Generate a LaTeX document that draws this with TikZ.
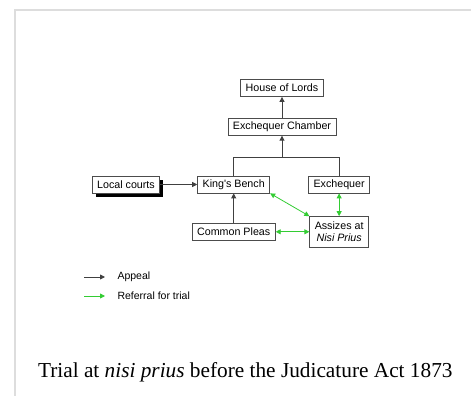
\documentclass[tikz,border=0pt]{standalone}
\usepackage{fontspec}
\setmainfont{Liberation Serif}
\newfontfamily\labelfont{Liberation Sans}
\usepackage{tikz}
\usetikzlibrary{arrows.meta, positioning, shadows}
\definecolor{frameGray}{RGB}{221,221,221}
\definecolor{trialGreen}{RGB}{51,204,51}

\begin{document}
\begin{tikzpicture}[
        x=1pt, y=1pt,
        font=\labelfont\fontsize{10.7}{12.4}\selectfont,
        court/.style={
            draw=black!70,
            line width=0.8pt,
            fill=white,
            minimum height=17pt,
            inner xsep=5pt,
            inner ysep=2pt,
            align=center
        },
        shadowed/.style={
            court,
            drop shadow={shadow xshift=3.5pt, shadow yshift=-4pt, opacity=1, fill=black}
        },
        link/.style={line width=0.9pt, draw=black!75},
        appeal/.style={link, -{Triangle[length=5pt, width=5pt]}},
        referral/.style={
            line width=0.8pt,
            draw=trialGreen,
            {Triangle[length=5pt, width=5pt]}-{Triangle[length=5pt, width=5pt]}
        },
        keyText/.style={anchor=west, font=\labelfont\fontsize{10.5}{12}\selectfont},
        frameLine/.style={draw=frameGray, line width=2pt}
    ]

        \useasboundingbox (0,0) rectangle (471,396);

        % ---- Frame ----
        \coordinate (frameTop) at (471,385.5);
        \coordinate (frameCorner) at (14.5,385.5);
        \coordinate (frameBottom) at (14.5,0);
        \draw[frameLine] (frameTop) -- (frameCorner) -- (frameBottom);

        % ---- Courts ----
        \node[court] (lords) at (282,308) {House of Lords};
        \node[court, below=21pt of lords] (chamber) {Exchequer Chamber};

        \node[court] (kings) at (233.7,211.5) {King's Bench};
        \node[court, right=38pt of kings] (exchequer) {Exchequer};
        \node[shadowed, left=37pt of kings] (local) {Local courts};

        \node[court, below=29.5pt of kings] (pleas) {Common Pleas};
        \node[court, minimum height=30.5pt] (assizes) at (exchequer |- pleas) {Assizes at\\\textit{Nisi Prius}};

        % ---- Appeals ----
        \coordinate[below=22pt of chamber.south] (fork);
        \draw[appeal] (chamber) -- (lords);
        \draw[appeal] (fork) -- (chamber);
        \draw[link] (kings) |- (fork) -| (exchequer);
        \draw[appeal] (local) -- (kings);
        \draw[appeal] (pleas) -- (kings);

        % ---- Referrals ----
        \draw[referral] (kings.south east) -- (assizes.north west);
        \draw[referral] (exchequer) -- (assizes);
        \draw[referral] (pleas) -- (assizes);

        % ---- Key ----
        \coordinate (appealStart) at (84,119);
        \coordinate (appealEnd) at (105,119);
        \coordinate (referralStart) at (84,100);
        \coordinate (referralEnd) at (105,100);
        \draw[appeal] (appealStart) -- (appealEnd);
        \draw[line width=0.8pt, draw=trialGreen, -{Triangle[length=5pt, width=5pt]}] (referralStart) -- (referralEnd);
        \node[keyText] (appealKey) at (114,119) {Appeal};
        \node[keyText] (referralKey) at (114,100) {Referral for trial};

        % ---- Caption ----
        \node[font=\rmfamily\fontsize{21.3}{24}\selectfont, anchor=base] (caption) at (245.3,18)
            {Trial at \textit{nisi prius} before the Judicature Act 1873};

    \end{tikzpicture}
\end{document}
